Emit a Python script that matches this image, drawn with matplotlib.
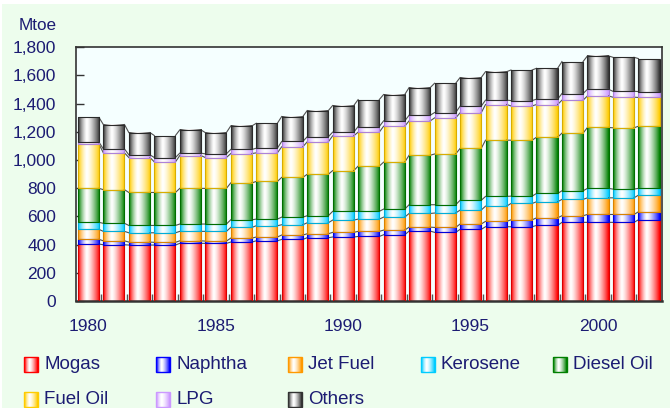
import numpy as np
import matplotlib
matplotlib.use('Agg')
import matplotlib.pyplot as plt
from matplotlib.colors import to_rgb
from matplotlib.patches import Rectangle

plt.rcParams['font.family'] = ['Liberation Sans', 'DejaVu Sans']

years = list(range(1980, 2003))
mogas = [404, 399, 397, 397, 409, 409, 418, 427, 437, 449, 454, 458, 470, 496, 487, 508, 527, 527, 536, 558, 558, 558, 576]
naphtha = [33, 28, 21, 19, 18, 16, 28, 27, 31, 28, 33, 36, 33, 28, 35, 38, 38, 49, 54, 47, 56, 56, 57]
jet_fuel = [71, 67, 66, 68, 67, 69, 76, 80, 73, 78, 87, 87, 92, 97, 102, 99, 108, 116, 114, 116, 118, 118, 118]
kerosene = [50, 57, 52, 52, 52, 52, 54, 47, 54, 50, 62, 55, 57, 62, 59, 69, 69, 52, 59, 61, 67, 62, 48]
diesel = [241, 239, 234, 234, 253, 253, 262, 267, 282, 294, 289, 321, 333, 351, 360, 368, 399, 397, 399, 409, 432, 435, 441]
fuel_oil = [314, 261, 248, 217, 233, 219, 208, 203, 217, 230, 247, 241, 255, 244, 256, 253, 253, 243, 232, 234, 224, 217, 204]
lpg = [14, 28, 19, 31, 17, 26, 29, 33, 38, 36, 26, 40, 38, 40, 38, 47, 31, 38, 38, 47, 47, 42, 42]
others = [175, 173, 158, 156, 165, 151, 167, 177, 177, 186, 189, 191, 187, 196, 208, 203, 202, 217, 219, 227, 237, 241, 234]

names = ['Mogas', 'Naphtha', 'Jet Fuel', 'Kerosene', 'Diesel Oil', 'Fuel Oil', 'LPG', 'Others']
data = [mogas, naphtha, jet_fuel, kerosene, diesel, fuel_oil, lpg, others]
colors = ['#FF0000', '#0000FF', '#FF9900', '#00CCFF', '#008000', '#FFCC00', '#CC99FF', '#333333']

navy = '#1C1C73'
W, H = 672, 408


def shade(col, n=40):
    # cylinder-like shading: colour at both edges, white a bit left of centre
    t = np.linspace(0, 1, n)
    w = np.where(t < 0.4, (1 - t / 0.4) ** 1.4, ((t - 0.4) / 0.6) ** 1.4)
    c = np.array(to_rgb(col))
    return (1 - w)[:, None] * 1.0 + w[:, None] * c[None, :]


def darker(col, f=0.85):
    return tuple(v * f for v in to_rgb(col))


fig = plt.figure(figsize=(W / 100, H / 100), dpi=100)
fig.patch.set_facecolor('white')
fig.add_artist(Rectangle((2 / W, 0), 668 / W, 404 / H, transform=fig.transFigure,
                         facecolor='#EDFDED', edgecolor='none', zorder=-10))

ax = fig.add_axes([75.7 / W, 1 - 301 / H, (661.7 - 75.7) / W, (301 - 47.3) / H])
ax.set_facecolor('#F5FFFF')

x = np.arange(len(years))
bw = 0.83
bottom = np.zeros(len(years))
for name, vals, col in zip(names, data, colors):
    bars = ax.bar(x, vals, width=bw, bottom=bottom, facecolor='none',
                  edgecolor=darker(col), linewidth=0.8, zorder=3)
    grad = shade(col)[None, :, :]
    for b in bars:
        ax.imshow(grad, extent=[b.get_x(), b.get_x() + b.get_width(), b.get_y(), b.get_y() + b.get_height()],
                  aspect='auto', interpolation='bilinear', zorder=2)
    bottom = bottom + np.array(vals)
    # lines joining the tops of this series between bars
    xs, ys = [], []
    for i in range(len(x) - 1):
        xs += [x[i] + bw / 2, x[i + 1] - bw / 2, np.nan]
        ys += [bottom[i], bottom[i + 1], np.nan]
    ax.plot(xs, ys, color='#505050', lw=0.8, zorder=2.5)

ax.set_xlim(-0.5, 22.5)
ax.set_ylim(0, 1800)

yt = list(range(0, 1801, 200))
ax.set_yticks(yt, ['{:,}'.format(v) for v in yt])
ax.tick_params(axis='y', direction='in', length=6, width=1, color='#333333',
               labelsize=12.5, labelcolor=navy, pad=14)
ax.set_xticks(x[::5], [str(y) for y in years[::5]])
ax.set_xticks(np.arange(0.5, 22, 1), minor=True)
ax.tick_params(axis='x', which='major', length=0, labelsize=12.5, labelcolor=navy, pad=13)
ax.tick_params(axis='x', which='minor', direction='in', length=5, width=1, color='#555555')

for s in ax.spines.values():
    s.set_color('#333333')
    s.set_linewidth(1.2)
ax.spines['bottom'].set_linewidth(1.8)

fig.text(57 / W, 1 - 26 / H, 'Mtoe', ha='right', va='center', fontsize=12.3, color=navy)

# legend, laid out in evenly spaced columns as in the original
for i, (name, col) in enumerate(zip(names, colors)):
    r, c = divmod(i, 5)
    x0 = 24 + c * 132.2
    yc = 364.2 + r * 35.5
    g = shade(col, 14)
    for k in range(14):
        fig.add_artist(Rectangle(((x0 + k) / W, 1 - (yc + 7.5) / H), 1 / W, 15 / H,
                                 transform=fig.transFigure, facecolor=g[k], edgecolor='none'))
    fig.add_artist(Rectangle((x0 / W, 1 - (yc + 7.5) / H), 14 / W, 15 / H,
                             transform=fig.transFigure, facecolor='none', edgecolor=col, lw=1))
    fig.text((x0 + 20) / W, 1 - yc / H, name, ha='left', va='center', fontsize=13.5, color=navy)

fig.savefig('out.png', dpi=100, facecolor=fig.get_facecolor())
